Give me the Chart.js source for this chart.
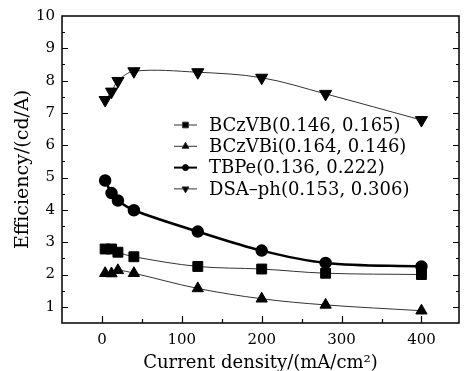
<!DOCTYPE html>
<html>
<head>
<meta charset="utf-8">
<script src="https://cdn.jsdelivr.net/npm/chart.js@4.4.0/dist/chart.umd.min.js"></script>
<style>
  html, body { margin: 0; padding: 0; background: #fff; overflow: hidden; }
</style>
</head>
<body>
<canvas id="effChart" width="467" height="371"></canvas>
<script>
"use strict";

// current density (mA/cm2), same for every device
const currentDensity = [4, 12, 20, 40, 120, 200, 280, 400];

// efficiency (cd/A)
const effBCzVB  = [2.79, 2.79, 2.69, 2.55, 2.25, 2.17, 2.04, 2.00];
const effBCzVBi = [2.04, 2.03, 2.13, 2.04, 1.57, 1.25, 1.06, 0.88];
const effTBPe   = [4.91, 4.52, 4.29, 3.99, 3.33, 2.74, 2.36, 2.25];
const effDSAph  = [7.40, 7.66, 7.99, 8.29, 8.26, 8.09, 7.59, 6.78];

const seriesLabels = ["BCzVB(0.146, 0.165)", "BCzVBi(0.164, 0.146)", "TBPe(0.136, 0.222)", "DSA\u2013ph(0.153, 0.306)"];

// tick labels
const xTicks = [0, 100, 200, 300, 400];
const yTicks = [1, 2, 3, 4, 5, 6, 7, 8, 9, 10];

const FONT = "'DejaVu Serif', 'Liberation Serif', serif";

const toPoints = (ys) => currentDensity.map((x, i) => ({ x: x, y: ys[i] }));

// frame with inward ticks, plus the legend drawn with line + marker
const framePlugin = {
  id: "frame",
  afterDraw(chart) {
    const { ctx, chartArea: a, scales } = chart;
    const x = scales.x, y = scales.y;
    ctx.save();
    ctx.strokeStyle = "#000";
    ctx.lineWidth = 1.5;
    ctx.strokeRect(a.left, a.top, a.right - a.left, a.bottom - a.top);

    ctx.lineWidth = 1.2;
    ctx.beginPath();
    for (let v = 1; v <= 9.5; v += 0.5) {
      const py = Math.round(y.getPixelForValue(v)) + 0.5;
      const len = Number.isInteger(v) ? 6 : 3;
      ctx.moveTo(a.left, py); ctx.lineTo(a.left + len, py);
      ctx.moveTo(a.right, py); ctx.lineTo(a.right - len, py);
    }
    for (let v = 0; v <= 400; v += 50) {
      const px = Math.round(x.getPixelForValue(v)) + 0.5;
      const len = v % 100 === 0 ? 7 : 4;
      ctx.moveTo(px, a.bottom); ctx.lineTo(px, a.bottom - len);
    }
    ctx.stroke();

    // legend
    const legX = 174, legY = 125, rowH = 21.3;
    ctx.font = "18px " + FONT;
    ctx.fillStyle = "#000";
    ctx.textBaseline = "middle";
    chart.data.datasets.forEach((ds, i) => {
      const ly = legY + i * rowH;
      ctx.lineWidth = ds.borderWidth > 1 ? 2 : 1;
      ctx.strokeStyle = ds.borderColor;
      ctx.beginPath();
      ctx.moveTo(legX, ly); ctx.lineTo(legX + 23, ly);
      ctx.stroke();
      ctx.lineWidth = 1;
      Chart.helpers.drawPoint(ctx, {
        pointStyle: ds.pointStyle, rotation: ds.pointRotation || 0,
        radius: ds.pointStyle === "circle" ? 3 : 4, borderWidth: 1
      }, legX + 11.5, ly);
      ctx.fillText(ds.label, legX + 35, ly + 1);
    });
    ctx.restore();
  }
};

const baseSeries = {
  borderColor: "#333",
  backgroundColor: "#000",
  pointBorderColor: "#000",
  pointBackgroundColor: "#000",
  borderWidth: 1,
  showLine: true,
  tension: 0.35
};

new Chart(document.getElementById("effChart"), {
  type: "scatter",
  data: {
    datasets: [
      Object.assign({}, baseSeries, { label: seriesLabels[0], data: toPoints(effBCzVB), pointStyle: "rect", pointRadius: 7 }),
      Object.assign({}, baseSeries, { label: seriesLabels[1], data: toPoints(effBCzVBi), pointStyle: "triangle", pointRadius: 6.5 }),
      Object.assign({}, baseSeries, { label: seriesLabels[2], data: toPoints(effTBPe), pointStyle: "circle", pointRadius: 5, borderWidth: 2.5, borderColor: "#000" }),
      Object.assign({}, baseSeries, { label: seriesLabels[3], data: toPoints(effDSAph), pointStyle: "triangle", pointRotation: 180, pointRadius: 7 })
    ]
  },
  options: {
    responsive: false,
    animation: false,
    layout: { padding: { top: 13, right: 1, left: 0, bottom: 0 } },
    plugins: { legend: { display: false }, tooltip: { enabled: false } },
    scales: {
      x: {
        type: "linear",
        min: -50,
        max: 447,
        afterFit(scale) { scale.height = 48; },
        afterBuildTicks(scale) { scale.ticks = xTicks.map(v => ({ value: v })); },
        grid: { display: false, drawTicks: false },
        border: { display: false },
        ticks: { color: "#000", padding: 8, maxRotation: 0, font: { family: FONT, size: 15 } },
        title: {
          display: true,
          text: "Current density/(mA/cm\u00b2)",
          color: "#000",
          padding: { top: 0, bottom: -3 },
          font: { family: FONT, size: 18 }
        }
      },
      y: {
        type: "linear",
        min: 0.5,
        max: 10,
        afterFit(scale) { scale.width = 62; },
        afterBuildTicks(scale) { scale.ticks = yTicks.map(v => ({ value: v })); },
        grid: { display: false, drawTicks: false },
        border: { display: false },
        ticks: { color: "#000", padding: 7, font: { family: FONT, size: 15 } },
        title: {
          display: true,
          text: "Efficiency/(cd/A)",
          color: "#000",
          padding: { top: 12, bottom: 0 },
          font: { family: FONT, size: 19 }
        }
      }
    }
  },
  plugins: [framePlugin]
});
</script>
</body>
</html>
